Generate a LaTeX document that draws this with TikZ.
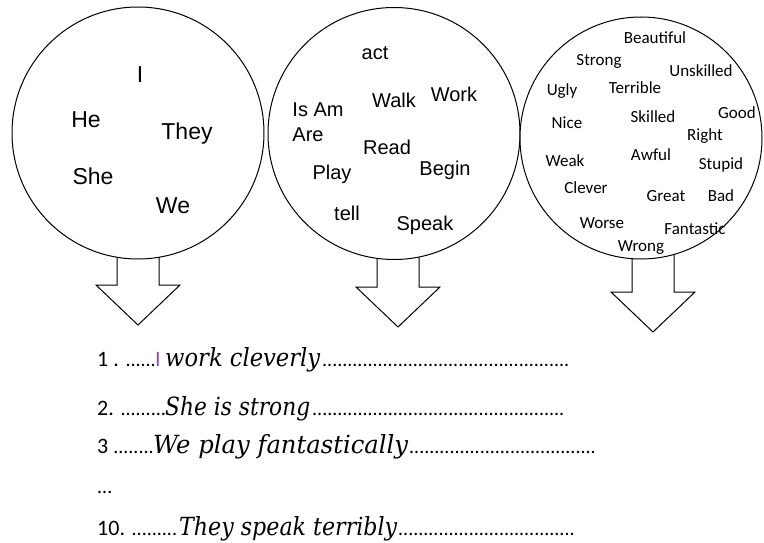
\documentclass[tikz,border=0pt]{standalone}
\usepackage{fontspec}
\usepackage{graphicx}
\newfontfamily\arialfont{Liberation Sans}
\newfontfamily\calfont{Carlito}
\newfontfamily\handfont{DejaVu Serif}
\usetikzlibrary{calc}
\definecolor{cursor}{HTML}{8A4FB0}
% a run of dots of a given width
\newcommand{\dotrun}[1]{\makebox[#1pt][l]{\calfont\fontsize{20}{20}\selectfont\leaders\hbox{.}\hfill}}
% handwriting-like phrase stretched to a given width
\newcommand{\handfit}[2]{\resizebox{#1pt}{\height}{#2}}
\begin{document}
\begin{tikzpicture}[x=1pt,y=-1pt,
  bubble/.style={circle,draw,line width=1pt,fill=white,inner sep=0pt},
  blockarrow/.style={draw,line width=1pt,line join=miter},
  pron/.style={font=\arialfont\fontsize{23}{23}\selectfont,inner sep=0pt},
  verb/.style={font=\arialfont\fontsize{20}{20}\selectfont,inner sep=0pt},
  adj/.style={font=\calfont\fontsize{17}{17}\selectfont,inner sep=0pt},
  num/.style={font=\calfont\fontsize{22}{22}\selectfont,inner sep=0pt,anchor=base west},
  hand/.style={font=\handfont\itshape\fontsize{25}{25}\selectfont,inner sep=0pt,anchor=base west},
  downarrow/.pic={\draw[blockarrow] (-21,-8) -- (-21,#1) -- (-42,#1) -- (0,#1+40) -- (42,#1) -- (21,#1) -- (21,-8);}
]
\useasboundingbox (0,0) rectangle (764,543);

% bottom points of the circles, used to hang the arrows
\coordinate (c1s) at (138,259);
\coordinate (c2s) at (394,260);
\coordinate (c3s) at (641,259);

% block arrows under the circles
\pic at ($(c1s)+(0,0)$) {downarrow=26};
\pic at ($(c2s)+(4,0)$) {downarrow=27};
\pic at ($(c3s)+(12,0)$) {downarrow=33};

% the three word circles
\node[bubble,minimum size=252pt] (c1) at (138,133) {};
\node[bubble,minimum size=252pt] (c2) at (394,133.5) {};
\node[bubble,minimum size=242pt] (c3) at (641,138) {};

% pronouns
\node[pron] (pI) at (140,75) {I};
\node[pron] (pHe) at (86,120) {He};
\node[pron] (pThey) at (187,134) {They};
\node[pron] (pShe) at (93,176) {She};
\node[pron] (pWe) at (173,206) {We};

% verbs
\node[verb] (vact) at (375,53) {act};
\node[verb] (vwalk) at (394,100) {Walk};
\node[verb] (vwork) at (454,94) {Work};
\node[verb] (visam) at (318,110) {Is Am};
\node[verb] (vare) at (308,135) {Are};
\node[verb] (vread) at (387,147) {Read};
\node[verb] (vbegin) at (445,170) {Begin};
\node[verb] (vplay) at (332,174) {Play};
\node[verb] (vtell) at (347,213) {tell};
\node[verb] (vspeak) at (425,225) {Speak};

% adjectives
\node[adj] (aBeautiful) at (655,38) {Beautiful};
\node[adj] (aStrong) at (599,61) {Strong};
\node[adj] (aUnskilled) at (701,71) {Unskilled};
\node[adj] (aUgly) at (562,91) {Ugly};
\node[adj] (aTerrible) at (635,88) {Terrible};
\node[adj] (aSkilled) at (653,117) {Skilled};
\node[adj] (aGood) at (737,113) {Good};
\node[adj] (aNice) at (567,123) {Nice};
\node[adj] (aRight) at (705,136) {Right};
\node[adj] (aWeak) at (565,161) {Weak};
\node[adj] (aAwful) at (651,155) {Awful};
\node[adj] (aStupid) at (721,165) {Stupid};
\node[adj] (aClever) at (586,188) {Clever};
\node[adj] (aGreat) at (666,196) {Great};
\node[adj] (aBad) at (721,196) {Bad};
\node[adj] (aWorse) at (602,223) {Worse};
\node[adj] (aFantastic) at (695,229) {Fantastic};
\node[adj] (aWrong) at (641,248) {Wrong};

% example sentences
\node[num] (l1n) at (97,366) {1 . \dotrun{34}};
\node[num,text=cursor] (l1c) at (155,366) {I};
\node[hand] (l1t) at (165,366) {\handfit{155}{work cleverly}};
\node[num] (l1d) at (322,366) {\dotrun{250}};

\node[num] (l2n) at (97,415) {2. \dotrun{46}};
\node[hand] (l2t) at (165,415) {\handfit{145}{She is strong}};
\node[num] (l2d) at (312,415) {\dotrun{255}};

\node[num] (l3n) at (97,453) {3 \dotrun{42}};
\node[hand] (l3t) at (153,453) {\handfit{255}{We play fantastically}};
\node[num] (l3d) at (409,453) {\dotrun{191}};

\node[num] (l4n) at (97,493) {\dotrun{16}};

\node[num] (l10n) at (97,535) {10. \dotrun{48}};
\node[hand] (l10t) at (179,535) {\handfit{218}{They speak terribly}};
\node[num] (l10d) at (398,535) {\dotrun{179}};
\end{tikzpicture}
\end{document}
